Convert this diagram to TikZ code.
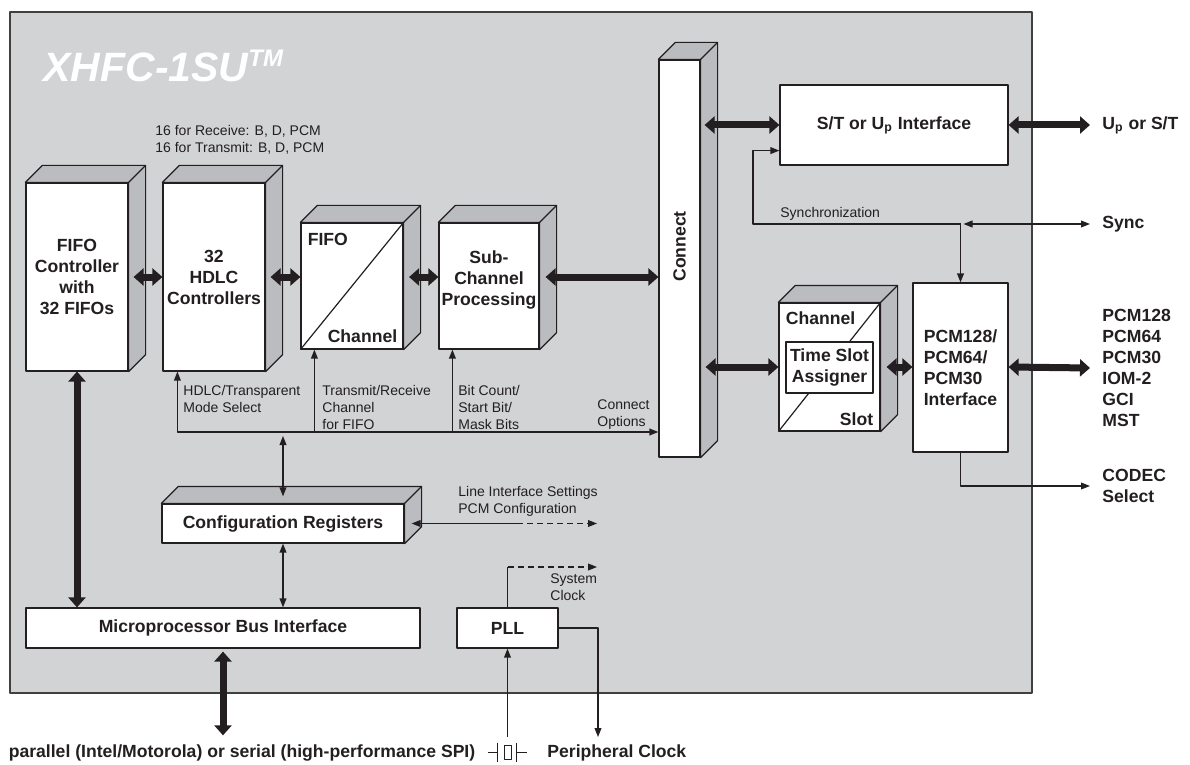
\documentclass[tikz,border=0pt]{standalone}
\usepackage{fontspec}
\setmainfont{Liberation Sans}
\usetikzlibrary{calc,arrows.meta}
\definecolor{panel}{RGB}{209,211,212}
\definecolor{facegray}{RGB}{186,188,191}
\definecolor{ink}{RGB}{35,31,32}

\newcommand\faces[1]{%
  \filldraw[face] (#1.north west) -- ++(17,-17) -- ($(#1.north east)+(17,-17)$)
    -- ($(#1.south east)+(17,-17)$) -- (#1.south east) -- (#1.north east) -- cycle;
  \draw[line width=0.6pt] (#1.north east) -- ++(17,-17);}

\begin{document}
\begin{tikzpicture}[x=0.5pt,y=-0.5pt,ink,line join=round,
  blk/.style={draw,fill=white,line width=0.6pt,inner sep=0pt,align=center,
    font=\bfseries\fontsize{8.8}{10.5}\selectfont},
  face/.style={draw,fill=facegray,line width=0.6pt},
  bus/.style={line width=3.5pt,{Triangle[width=8.5pt,length=5pt]}-{Triangle[width=8.5pt,length=5pt]}},
  sig/.style={line width=0.65pt,>={Triangle[width=3.4pt,length=4.5pt]}},
  dashline/.style={dash pattern=on 3pt off 2pt},
  lbl/.style={inner sep=0pt,align=left,font=\fontsize{7}{8.5}\selectfont},
  tag/.style={anchor=west,inner sep=0pt,font=\bfseries\fontsize{8.8}{10.5}\selectfont},
  outlbl/.style={anchor=west,inner xsep=6pt,inner ysep=0pt,align=left,
    font=\bfseries\fontsize{8.8}{10.5}\selectfont}]

  \useasboundingbox (0,0) rectangle (1190,765);
  \draw[fill=panel,draw=black!75,line width=0.8pt] (10,12) rectangle (1032,693);
  \node[anchor=base west,inner sep=0pt,white,font=\bfseries\itshape\fontsize{20.5}{21}\selectfont]
    (title) at (43,82) {XHFC-1SU\raisebox{7.5pt}{\fontsize{12}{12}\selectfont TM}};
  \node[lbl,anchor=west] (hdlcnote) at (155,139.5) {16 for Receive: B, D, PCM\\16 for Transmit: B, D, PCM};

  \node[blk,minimum width=51pt,minimum height=94pt] (fifoctl) at (77,277) {FIFO\\Controller\\with\\32 FIFOs};
  \node[blk,minimum width=51pt,minimum height=94pt] (hdlc) at (214,277) {32\\HDLC\\Controllers};
  \node[blk,minimum width=51pt,minimum height=63pt] (fifo) at (352,286) {};
  \node[blk,minimum width=50pt,minimum height=63pt] (subch) at (489,286) {};
  \node[blk,draw=none,fill=none] (subchtxt) at (489,280) {Sub-\\Channel\\Processing};
  \node[blk,minimum width=20.5pt,minimum height=198.5pt] (connect) at (679.5,258.5) {\rotatebox{90}{\hspace{12pt}Connect}};
  \node[blk,minimum width=114pt,minimum height=40pt] (st) at (894,125) {S/T or U\textsubscript{p} Interface};
  \node[blk,minimum width=50.5pt,minimum height=64pt] (chslot) at (829.5,367) {};
  \node[blk,align=left,minimum width=47.5pt,minimum height=84.5pt] (pcm) at (960.5,367.5) {PCM128/\\PCM64/\\PCM30\\Interface};
  \node[blk,minimum width=121pt,minimum height=19.5pt] (cfg) at (283,523.5) {Configuration Registers};
  \node[blk,minimum width=197pt,minimum height=20pt] (micro) at (223,628) {Microprocessor Bus Interface};
  \node[blk,minimum width=50.5pt,minimum height=20pt] (pll) at (507.5,628) {PLL};
  \foreach \b in {fifoctl,hdlc,fifo,subch,connect,chslot,cfg}
    \faces{\b};

  \draw[line width=0.6pt] (fifo.south west) -- (fifo.north east);
  \node[tag,anchor=north west] (fifotxt) at ($(fifo.north west)+(7,10)$) {FIFO};
  \node[tag,anchor=base east] (chantxt) at ($(fifo.south east)+(-6,-7)$) {Channel};
  \draw[line width=0.6pt] (chslot.south west) -- (chslot.north east);
  \node[tag,anchor=north west] (slotchan) at ($(chslot.north west)+(7,9)$) {Channel};
  \node[tag,anchor=base east] (slottxt) at ($(chslot.south east)+(-7,-6)$) {Slot};
  \node[blk,minimum width=43.5pt,minimum height=25.5pt] (tsa) at (829.5,367.5) {Time Slot\\Assigner};

  \draw[bus] ([xshift=2.5pt]fifoctl.east) -- (hdlc.west);
  \draw[bus] ([xshift=2.5pt]hdlc.east) -- (fifo.west |- hdlc.east);
  \draw[bus] ([xshift=2.75pt]fifo.east |- hdlc.east) -- (subch.west |- hdlc.east);
  \draw[bus] ([xshift=3pt]subch.east |- hdlc.east) -- (connect.west |- hdlc.east);
  \draw[bus] ([xshift=2pt]connect.east |- st.west) -- (st.west);
  \draw[bus] ([xshift=2.5pt]connect.east |- chslot.west) -- (chslot.west);
  \draw[bus] ([xshift=3pt]chslot.east) -- (pcm.west |- chslot.east);
  \draw[bus] (fifoctl.south) -- (micro.north -| fifoctl.south);

  \node[outlbl] (upst) at (1090,125) {U\textsubscript{p} or S/T};
  \node[outlbl] (sync) at (1090,224) {Sync};
  \node[outlbl] (pcmlbl) at (1090,368) {PCM128\\PCM64\\PCM30\\IOM-2\\GCI\\MST};
  \node[outlbl] (codec) at (1090,486) {CODEC\\Select};
  \draw[bus] (st.east) -- (upst.west);
  \draw[bus] (pcm.east |- chslot.east) -- (pcmlbl.west);

  \coordinate (sy) at (753,224);
  \draw[sig,->] (pcm.north |- sy) -- (sy) |- ($(st.south west)+(0,-15)$);
  \draw[sig,->] (pcm.north |- sy) -- (pcm.north);
  \draw[sig,<->] ($(pcm.north |- sy)+(3,0)$) -- (sync.west);
  \node[lbl,anchor=west] (synclbl) at (780,214) {Synchronization};
  \draw[sig,->] (pcm.south) |- (codec.west);

  \coordinate (bus) at (178,432);
  \draw[sig,<->] ($(hdlc.south west)+(15,0)$) |- (connect.west |- bus);
  \draw[sig,<-] ($(fifo.south west)+(14,0)$) coordinate (tf) -- (tf |- bus);
  \draw[sig,<-] ($(subch.south west)+(14,0)$) coordinate (ts) -- (ts |- bus);
  \draw[sig,<->] ($(cfg.north)+(0,-7)$) -- ($(cfg.north |- bus)+(0,4)$);
  \draw[sig,<->] (cfg.south) -- (micro.north -| cfg.south);
  \node[lbl,anchor=west] (modelbl) at (183,398.5) {HDLC/Transparent\\Mode Select};
  \node[lbl,anchor=west] (chanlbl) at (322,407) {Transmit/Receive\\Channel\\for FIFO};
  \node[lbl,anchor=west] (bitlbl) at (458,407) {Bit Count/\\Start Bit/\\Mask Bits};
  \node[lbl,anchor=west] (optlbl) at (597,415) {Connect\\Options};

  \coordinate (lmid) at (517,523.5);
  \coordinate (lineif) at (597,523.5);
  \draw[sig,<-] ([xshift=3.5pt]cfg.east) -- (lmid);
  \draw[sig,dashline,->] (lmid) -- (lineif);
  \node[lbl,anchor=west] (lineiflbl) at (458,501.5) {Line Interface Settings\\PCM Configuration};

  \coordinate (sysclk) at (597,567);
  \draw[sig] (pll.north) -- (pll.north |- sysclk);
  \draw[sig,dashline,->] (pll.north |- sysclk) -- (sysclk);
  \node[lbl,anchor=north west] (sysclklbl) at (550,573) {System\\Clock};

  \node[tag,anchor=center] (host) at (242,753) {parallel (Intel/Motorola) or serial (high-performance SPI)};
  \draw[bus] ([yshift=-1.5pt]micro.south) -- ([yshift=4.5pt]host.north -| micro.south);
  \node[tag] (perclk) at (547,753) {Peripheral Clock};
  \coordinate (perin) at (598,737);
  \draw[sig,->] (pll.east) -| (perin);
  \node[draw,line width=0.5pt,minimum width=3.5pt,minimum height=7pt,inner sep=0pt] (xtal) at (507.5,752) {};
  \draw[line width=0.5pt] ($(xtal.west)+(-6,-9.5)$) -- ++(0,19) ($(xtal.west)+(-6,0)$) -- ++(-10,0)
    ($(xtal.east)+(5,-9.5)$) -- ++(0,19) ($(xtal.east)+(5,0)$) -- ++(10,0);
  \draw[sig,->] ($(xtal.north)+(0,-8)$) -- (pll.south);
\end{tikzpicture}
\end{document}
